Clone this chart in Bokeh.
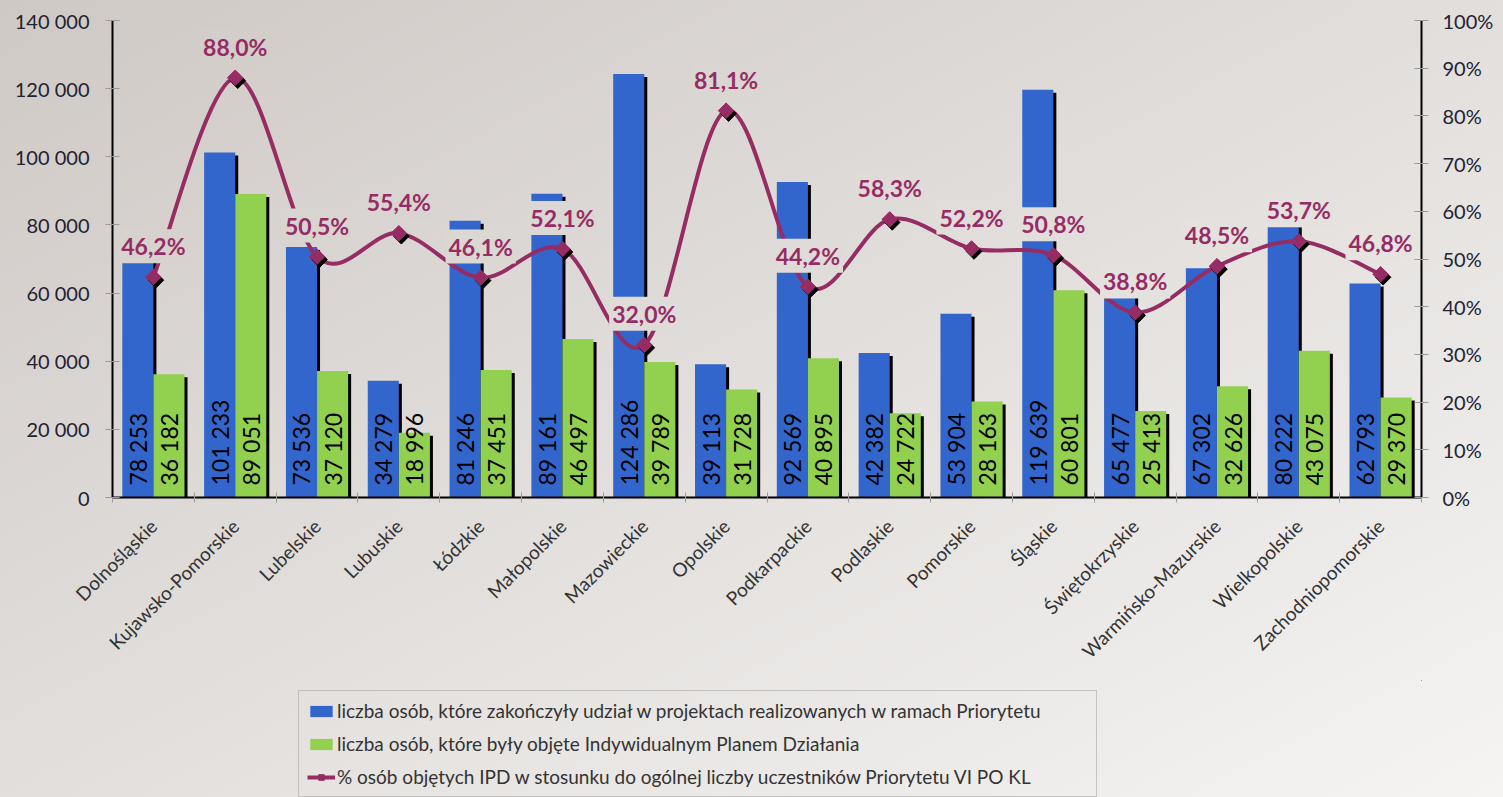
import numpy as np
from bokeh.plotting import figure
from bokeh.layouts import column
from bokeh.models import (ColumnDataSource, Range1d, LinearAxis, FixedTicker,
                          Legend, LegendItem)
from bokeh.core.properties import value
from bokeh.embed import file_html
from bokeh.resources import INLINE

# ---------------- data ----------------
categories = ["Dolnośląskie", "Kujawsko-Pomorskie", "Lubelskie", "Lubuskie",
              "Łódzkie", "Małopolskie", "Mazowieckie", "Opolskie",
              "Podkarpackie", "Podlaskie", "Pomorskie", "Śląskie",
              "Świętokrzyskie", "Warmińsko-Mazurskie", "Wielkopolskie",
              "Zachodniopomorskie"]
completed = [78253, 101233, 73536, 34279, 81246, 89161, 124286, 39113,
             92569, 42382, 53904, 119639, 65477, 67302, 80222, 62793]
ipd = [36182, 89051, 37120, 18996, 37451, 46497, 39789, 31728,
       40895, 24722, 28163, 60801, 25413, 32626, 43075, 29370]
pct = [46.2, 88.0, 50.5, 55.4, 46.1, 52.1, 32.0, 81.1,
       44.2, 58.3, 52.2, 50.8, 38.8, 48.5, 53.7, 46.8]

left_ticks = [0, 20000, 40000, 60000, 80000, 100000, 120000, 140000]
left_tick_labels = ["0", "20 000", "40 000", "60 000", "80 000",
                    "100 000", "120 000", "140 000"]
right_ticks = [0, 10, 20, 30, 40, 50, 60, 70, 80, 90, 100]
right_tick_labels = ["0%", "10%", "20%", "30%", "40%", "50%", "60%",
                     "70%", "80%", "90%", "100%"]
series_names = [
    "liczba osób, które zakończyły udział w projektach realizowanych w ramach Priorytetu",
    "liczba osób, które były objęte Indywidualnym Planem Działania",
    "% osób objętych IPD w stosunku do ogólnej liczby uczestników Priorytetu VI PO KL",
]

# ---------------- styles ----------------
FONT = "Lato"
BLUE = "#3366cc"
GREEN = "#92d050"
PLUM = "#962c64"
TICK_GRAY = "#9a9a9a"
W, H_TOP, H_LEG = 1503, 680, 117
H = H_TOP + H_LEG
FL, FR, FT, FB = 112, 82, 20, 183          # frame borders of the chart
BG0 = np.array([207, 201, 197])
BG1 = np.array([245, 244, 243])

n = len(categories)
xc = np.arange(n) + 0.5
BW = 0.38
x_blue = xc - BW / 2
x_green = xc + BW / 2

frame_w = W - FL - FR
frame_h = H_TOP - FT - FB
px_x = n / frame_w
px_y = 140000 / frame_h
px_p = 100 / frame_h

fig = figure(width=W, height=H_TOP, x_range=Range1d(0, n), y_range=Range1d(0, 140000),
             output_backend="svg", toolbar_location=None,
             min_border_left=FL, min_border_right=FR, min_border_top=FT,
             min_border_bottom=FB)
fig.extra_y_ranges = {"pct": Range1d(0, 100)}
fig.background_fill_color = None
fig.border_fill_color = None
fig.outline_line_color = None
fig.xgrid.visible = False
fig.ygrid.visible = False

# ---------------- bars ----------------
src = ColumnDataSource(dict(xb=x_blue, xg=x_green, completed=completed, ipd=ipd,
                            sb=x_blue + 3 * px_x, sg=x_green + 3 * px_x,
                            cs=np.array(completed) - 3 * px_y,
                            gs=np.array(ipd) - 3 * px_y))
fig.vbar(x="sb", width=BW, top="cs", bottom=0, source=src, fill_color="black", line_color=None)
fig.vbar(x="xb", width=BW, top="completed", bottom=0, source=src,
         fill_color=BLUE, line_color=None)
fig.vbar(x="sg", width=BW, top="gs", bottom=0, source=src, fill_color="black", line_color=None)
fig.vbar(x="xg", width=BW, top="ipd", bottom=0, source=src,
         fill_color=GREEN, line_color=None)

# value labels inside bars
fmt = lambda v: f"{v:,}".replace(",", " ")
for xs_, vals in ((x_blue, completed), (x_green, ipd)):
    fig.text(x=xs_, y=[0] * n, text=[fmt(v) for v in vals], angle=np.pi / 2,
             text_align="left", text_baseline="middle", y_offset=-12,
             text_font=value(FONT), text_font_size="23px", text_color="black")

# ---------------- smoothed percentage line ----------------
ys = np.array(pct, dtype=float)
prev_x = np.r_[xc[0], xc[:-1]]; next_x = np.r_[xc[1:], xc[-1]]
prev_y = np.r_[ys[0], ys[:-1]]; next_y = np.r_[ys[1:], ys[-1]]
mx = (next_x - prev_x) / 2
my = (next_y - prev_y) / 2
fig.bezier(x0=xc[:-1], y0=ys[:-1], x1=xc[1:], y1=ys[1:],
           cx0=xc[:-1] + mx[:-1] / 3, cy0=ys[:-1] + my[:-1] / 3,
           cx1=xc[1:] - mx[1:] / 3, cy1=ys[1:] - my[1:] / 3,
           line_color=PLUM, line_width=4, y_range_name="pct")
fig.scatter(x=xc + 2.5 * px_x, y=ys - 3 * px_p, marker="square", angle=np.pi / 4,
            size=11, fill_color="black", line_color="black", y_range_name="pct")
fig.scatter(x=xc, y=ys, marker="square", angle=np.pi / 4, size=11,
            fill_color=PLUM, line_color=PLUM, y_range_name="pct")

# percentage labels with background box (hide line/bars beneath)
lab_x = FL + xc / n * frame_w
lab_y = FT + frame_h - ys / 100 * frame_h - 31
t = np.clip((lab_x / W + lab_y / H) / 2, 0, 1)
bgs = ["#%02x%02x%02x" % tuple(int(round(c)) for c in BG0 + (BG1 - BG0) * ti) for ti in t]
psrc = ColumnDataSource(dict(x=xc, y=ys, bg=bgs,
                             txt=[f"{v:.1f}".replace(".", ",") + "%" for v in pct]))
fig.text(x="x", y="y", text="txt", source=psrc, y_range_name="pct", y_offset=-31,
         text_align="center", text_baseline="middle", text_font=value(FONT),
         text_font_size="23px", text_font_style="bold", text_color=PLUM,
         background_fill_color="bg", padding=3)

# ---------------- axes ----------------
ya = fig.yaxis[0]
ya.ticker = FixedTicker(ticks=left_ticks)
ya.major_label_overrides = dict(zip(left_ticks, left_tick_labels))
right = LinearAxis(y_range_name="pct", ticker=FixedTicker(ticks=right_ticks))
right.major_label_overrides = dict(zip(right_ticks, right_tick_labels))
fig.add_layout(right, "right")
for ax in (ya, right):
    ax.axis_line_color = "black"
    ax.axis_line_width = 2
    ax.major_tick_in = 7
    ax.major_tick_out = 7
    ax.major_tick_line_color = TICK_GRAY
    ax.minor_tick_line_color = None
    ax.major_label_text_font = FONT
    ax.major_label_text_font_size = "20px"
    ax.major_label_text_color = "#222233"
ya.major_label_standoff = 16
right.major_label_standoff = 14

xa = fig.xaxis[0]
xa.ticker = FixedTicker(ticks=list(xc), minor_ticks=list(range(n + 1)))
xa.major_label_overrides = {float(c): name for c, name in zip(xc, categories)}
xa.major_label_orientation = np.pi / 4
xa.axis_line_color = "black"
xa.axis_line_width = 2
xa.major_tick_line_color = None
xa.major_tick_in = 0
xa.major_tick_out = 0
xa.minor_tick_in = 5
xa.minor_tick_out = 5
xa.minor_tick_line_color = TICK_GRAY
xa.major_label_standoff = 20
xa.major_label_text_font = FONT
xa.major_label_text_font_size = "19px"
xa.major_label_text_color = "#333333"

# ---------------- legend (separate strip below the chart) ----------------
# proxy renderers: same data, but the strip's ranges keep them out of view
leg = figure(width=W, height=H_LEG, x_range=Range1d(-3, -2), y_range=Range1d(-3, -2),
             output_backend="svg", toolbar_location=None,
             x_axis_type=None, y_axis_type=None, min_border=0)
leg.background_fill_color = None
leg.border_fill_color = None
leg.outline_line_color = None
lr1 = leg.vbar(x=x_blue, top=completed, width=BW, fill_color=BLUE, line_color=None)
lr2 = leg.vbar(x=x_green, top=ipd, width=BW, fill_color=GREEN, line_color=None)
lr3 = leg.line(x=xc, y=pct, line_color=PLUM, line_width=4)
lr4 = leg.scatter(x=xc, y=pct, marker="square", angle=np.pi / 4, size=11,
                  fill_color=PLUM, line_color=PLUM)
legend = Legend(items=[LegendItem(label=series_names[0], renderers=[lr1]),
                       LegendItem(label=series_names[1], renderers=[lr2]),
                       LegendItem(label=series_names[2], renderers=[lr3, lr4])],
                location=(186, 0), orientation="vertical",
                glyph_width=28, glyph_height=14, label_height=14, spacing=10,
                padding=8, margin=0, label_standoff=2, label_width=751,
                border_line_color="#9b9b9b", background_fill_alpha=0,
                label_text_font=FONT, label_text_font_size="19px",
                label_text_color="#333333")
leg.add_layout(legend)

p = column(fig, leg, spacing=0,
           styles={"background": "linear-gradient(to bottom right, #cfc9c5, #f5f4f3)"})

open("out.html", "w").write(file_html(p, INLINE))
